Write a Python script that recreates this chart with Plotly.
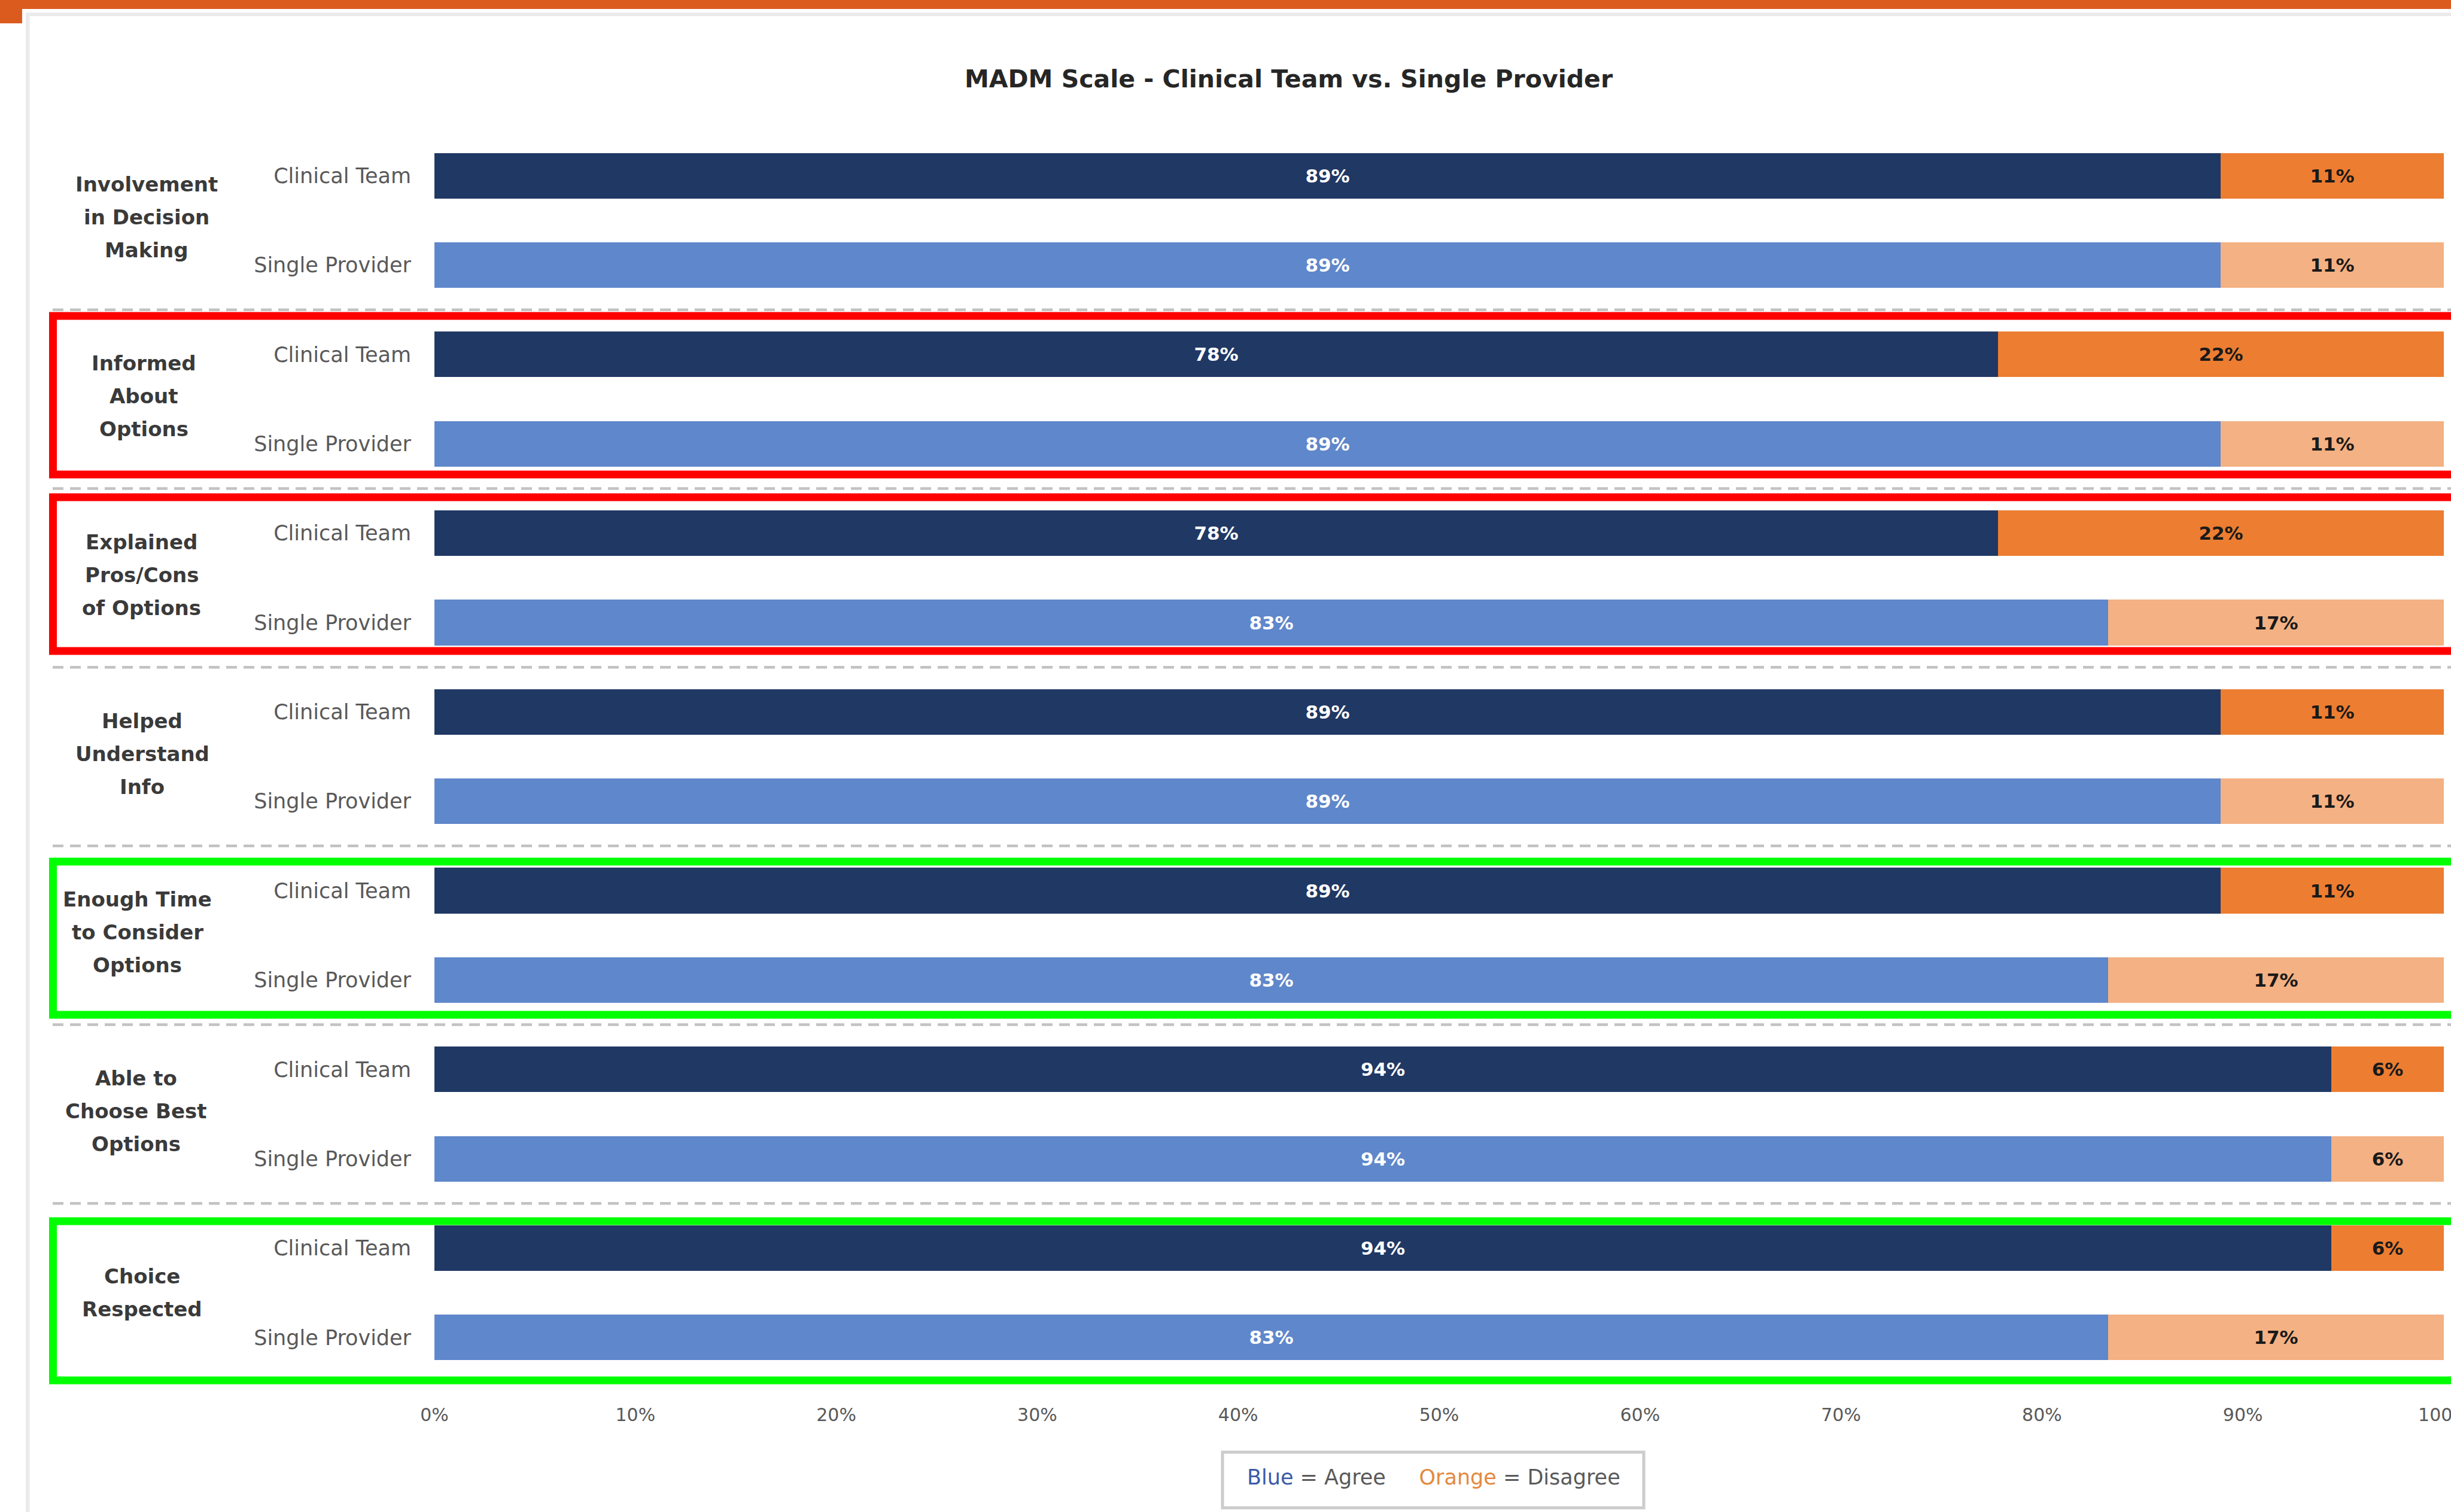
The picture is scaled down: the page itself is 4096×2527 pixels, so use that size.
import plotly.graph_objects as go

# ---------------- data ----------------
group_labels = [
    ["Involvement", "in Decision", "Making"],
    ["Informed", "About", "Options"],
    ["Explained", "Pros/Cons", "of Options"],
    ["Helped", "Understand", "Info"],
    ["Enough Time", "to Consider", "Options"],
    ["Able to", "Choose Best", "Options"],
    ["Choice", "Respected"],
]
series_names = ["Clinical Team", "Single Provider"]
ct_agree = [88.9, 77.8, 77.8, 88.9, 88.9, 94.4, 94.4]
ct_disagree = [11.1, 22.2, 22.2, 11.1, 11.1, 5.6, 5.6]
sp_agree = [88.9, 88.9, 83.3, 88.9, 83.3, 94.4, 83.3]
sp_disagree = [11.1, 11.1, 16.7, 11.1, 16.7, 5.6, 16.7]
x_tick_values = [0, 10, 20, 30, 40, 50, 60, 70, 80, 90, 100]
x_tick_labels = ["0%", "10%", "20%", "30%", "40%", "50%", "60%", "70%", "80%", "90%", "100%"]
title_text = "MADM Scale - Clinical Team vs. Single Provider"
red_groups = [1, 2]
green_groups = [4, 6]

# ---------------- layout constants (pixels) ----------------
W, H = 4096, 2527
ML, MR, MT, MB = 726, 12, 219, 217
PL, PR, PT, PB = ML, W - MR, MT, H - MB
FONT = "DejaVu Sans"

def fx(p):
    return (p - PL) / (PR - PL)

def fy(p):
    return (PB - p) / (PB - PT)

n = len(group_labels)
ct_pos = [2 * g for g in range(n)]
sp_pos = [2 * g + 1 for g in range(n)]

C_NAVY = "#203864"
C_ORANGE = "#ED7D31"
C_BLUE = "#5F87CB"
C_LORANGE = "#F4B183"

fig = go.Figure()

def add_bar(xv, yv, color, txtcolor):
    fig.add_trace(go.Bar(
        x=xv, y=yv, orientation="h", width=0.51,
        marker=dict(color=color, line=dict(width=0)),
        texttemplate="%{x:.0f}%", textposition="inside",
        insidetextanchor="middle", textangle=0, constraintext="none",
        insidetextfont=dict(family=FONT, size=31, color=txtcolor, weight="bold"),
        showlegend=False, hoverinfo="skip",
    ))

add_bar(ct_agree, ct_pos, C_NAVY, "#FFFFFF")
add_bar(ct_disagree, ct_pos, C_ORANGE, "#1A1A1A")
add_bar(sp_agree, sp_pos, C_BLUE, "#FFFFFF")
add_bar(sp_disagree, sp_pos, C_LORANGE, "#1A1A1A")

tick_vals_y = []
tick_text_y = []
for g in range(n):
    tick_vals_y += [ct_pos[g], sp_pos[g]]
    tick_text_y += series_names

shapes = []
# frame decorations
shapes.append(dict(type="rect", xref="paper", yref="paper", x0=fx(0), x1=fx(W + 20),
                   y0=fy(0), y1=fy(15), fillcolor="#DB5B1F", line=dict(width=0), layer="above"))
shapes.append(dict(type="rect", xref="paper", yref="paper", x0=fx(0), x1=fx(37),
                   y0=fy(0), y1=fy(39), fillcolor="#DB5B1F", line=dict(width=0), layer="above"))
shapes.append(dict(type="rect", xref="paper", yref="paper", x0=fx(43), x1=fx(W + 20),
                   y0=fy(21), y1=fy(27), fillcolor="#EBEBEB", line=dict(width=0), layer="above"))
shapes.append(dict(type="rect", xref="paper", yref="paper", x0=fx(43), x1=fx(49.5),
                   y0=fy(21), y1=fy(H + 20), fillcolor="#EBEBEB", line=dict(width=0), layer="above"))

# dotted separators between groups
for g in range(n - 1):
    yv = (sp_pos[g] + ct_pos[g + 1]) / 2
    shapes.append(dict(type="line", xref="paper", yref="y", x0=fx(88), x1=fx(W + 20),
                       y0=yv, y1=yv, line=dict(color="#C2C2C2", width=4.5, dash="18px,11px"),
                       layer="above"))

# highlight boxes (pixel edges, output scale)
box_px = {1: (528, 793), 2: (831, 1088), 4: (1440, 1696), 6: (2041, 2307)}
for g in red_groups + green_groups:
    top, bot = box_px[g]
    col = "#FF0000" if g in red_groups else "#00FF00"
    shapes.append(dict(type="rect", xref="paper", yref="paper", x0=fx(88.5), x1=fx(W + 40),
                       y0=fy(bot), y1=fy(top), line=dict(color=col, width=13),
                       fillcolor="rgba(0,0,0,0)", layer="above"))

# legend box
shapes.append(dict(type="rect", xref="paper", yref="paper", x0=fx(2043), x1=fx(2747),
                   y0=fy(2520), y1=fy(2427), line=dict(color="#CCCCCC", width=5),
                   fillcolor="#FFFFFF", layer="above"))

annotations = []
annotations.append(dict(text="<b>" + title_text + "</b>", xref="paper", yref="paper",
                        x=fx(2154), y=fy(132), xanchor="center", yanchor="middle",
                        showarrow=False, font=dict(family=FONT, size=41, color="#262626")))

group_x_px = [245, 240, 237, 238, 230, 227, 238]
line_step = 55
for g, lines in enumerate(group_labels):
    cy = (ct_pos[g] + sp_pos[g]) / 2
    k = len(lines)
    for i, t in enumerate(lines):
        off = (i - (k - 1) / 2) * line_step - (5 if k == 3 else 0)
        annotations.append(dict(text="<b>" + t + "</b>", xref="paper", yref="y",
                                x=fx(group_x_px[g]), y=cy, yshift=-off,
                                xanchor="center", yanchor="middle", showarrow=False,
                                font=dict(family=FONT, size=34, color="#3A3A3A")))

legend_text = ("<span style='color:#3A5BA8'>Blue</span> = Agree" + "&nbsp;" * 5 +
               "<span style='color:#E4893E'>Orange</span> = Disagree")
annotations.append(dict(text=legend_text, xref="paper", yref="paper",
                        x=fx(2396), y=fy(2469), xanchor="center", yanchor="middle",
                        showarrow=False, font=dict(family=FONT, size=35, color="#595959")))

fig.update_layout(
    width=W, height=H,
    margin=dict(l=ML, r=MR, t=MT, b=MB, pad=0, autoexpand=False),
    paper_bgcolor="#FFFFFF", plot_bgcolor="#FFFFFF",
    barmode="stack", bargap=0,
    font=dict(family=FONT, color="#595959"),
    xaxis=dict(range=[0, 100], tickvals=x_tick_values, ticktext=x_tick_labels,
               showgrid=False, zeroline=False, showline=False, ticks="",
               automargin=False,
               ticklabelstandoff=34, ticklabeloverflow="allow",
               tickfont=dict(family=FONT, size=30, color="#595959"), fixedrange=True),
    yaxis=dict(range=[2 * n - 0.5, -0.5], tickvals=tick_vals_y, ticktext=tick_text_y,
               showgrid=False, zeroline=False, showline=False, ticks="",
               automargin=False,
               ticklabelstandoff=38,
               tickfont=dict(family=FONT, size=35, color="#595959"), fixedrange=True),
    shapes=shapes, annotations=annotations,
)

fig.write_html("out.html", config={"displayModeBar": False},
               post_script="document.body.style.margin='0px';document.body.style.overflow='hidden';")
